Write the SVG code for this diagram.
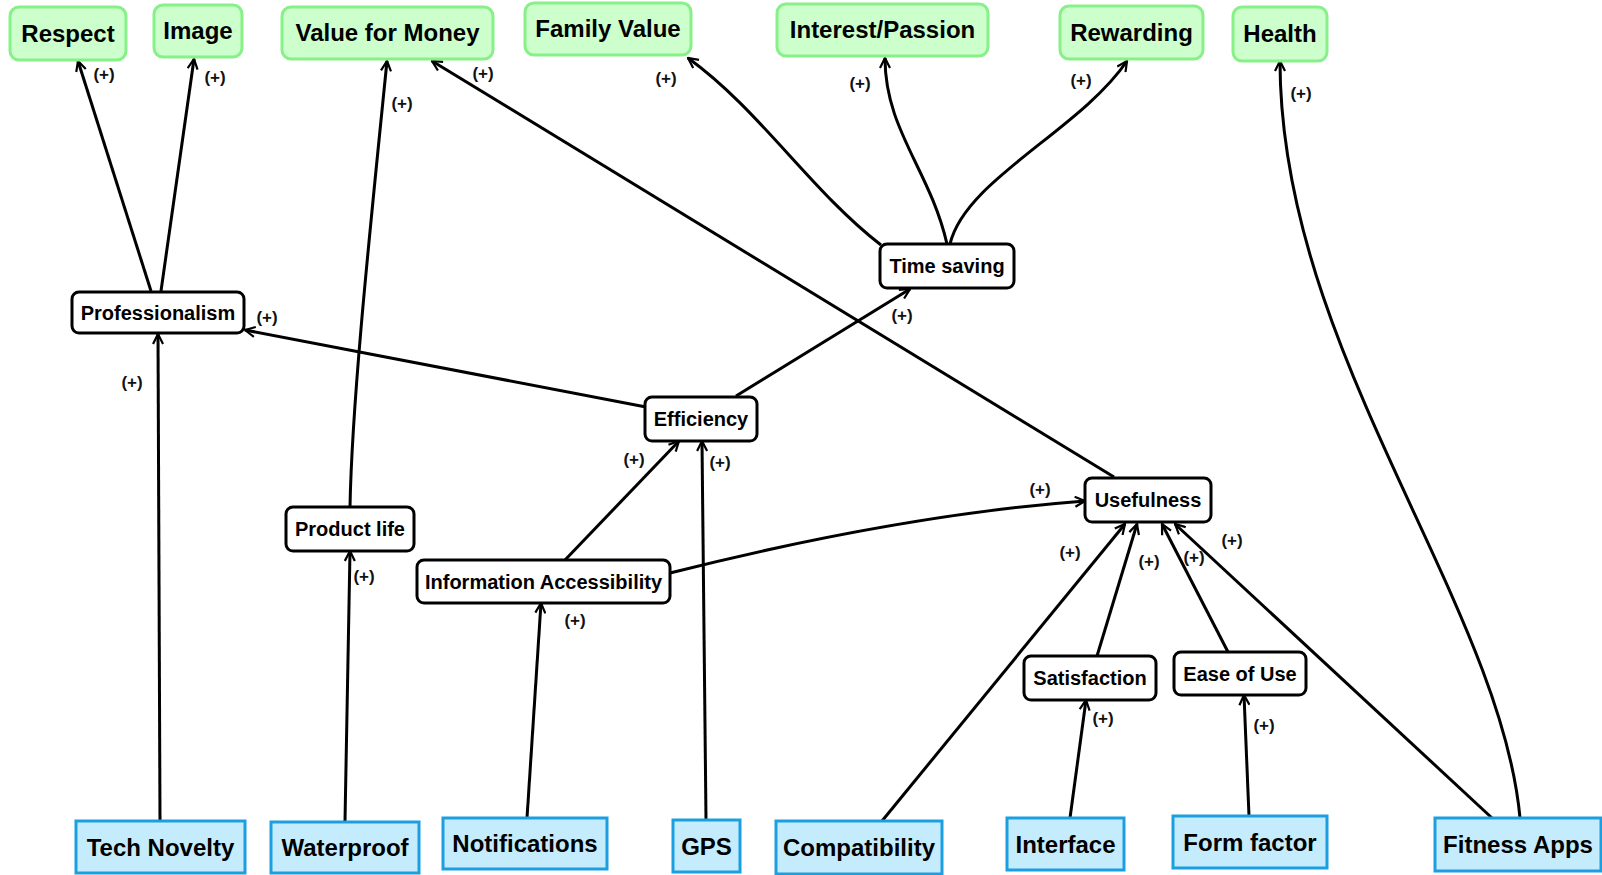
<svg xmlns="http://www.w3.org/2000/svg" width="1602" height="875" viewBox="0 0 1602 875">
<style>
.g rect{fill:#ccffcc;stroke:#88f088;stroke-width:3}
.w rect{fill:#fff;stroke:#000;stroke-width:3}
.b rect{fill:#c4ecfc;stroke:#1c9fe0;stroke-width:3}
text{font-family:"Liberation Sans",Arial,sans-serif;font-weight:bold;fill:#000;text-anchor:middle}
.g text,.b text{font-size:24px}
.w text{font-size:20px}
.lbl{font-size:17px;fill:#111}
.e path{fill:none;stroke:#000;stroke-width:3;marker-end:url(#arr)}
</style>
<defs>
<marker id="arr" viewBox="0 0 12 12" refX="11" refY="6" markerWidth="12" markerHeight="12" markerUnits="userSpaceOnUse" orient="auto">
<path d="M1,1 L11,6 L1,11" fill="none" stroke="#000" stroke-width="2.2"/>
</marker>
</defs>
<rect width="1602" height="875" fill="#fff"/>
<g id="connectors" class="e">
<path d="M151,291 L78,61"/>
<path d="M161,291 L194,59"/>
<path d="M350,507 C352,400 370,230 387,61"/>
<path d="M1114,477 L432,61"/>
<path d="M881,245 C810,190 760,110 688,58"/>
<path d="M947,244 C930,170 885,130 885,58"/>
<path d="M950,244 C965,180 1080,130 1127,61"/>
<path d="M1520,818 C1500,600 1280,350 1280,61"/>
<path d="M1492,818 L1175,524"/>
<path d="M160,820 L158,334"/>
<path d="M345,821 L350,551"/>
<path d="M646,407 L245,330"/>
<path d="M736,396 L910,289"/>
<path d="M565,560 L679,441"/>
<path d="M706,820 L702,441"/>
<path d="M527,818 L541,603"/>
<path d="M670,573 Q900,515 1085,501"/>
<path d="M882,821 L1125,524"/>
<path d="M1097,656 L1137,524"/>
<path d="M1228,652 L1162,524"/>
<path d="M1070,818 L1086,700"/>
<path d="M1249,816 L1244,695"/>
</g>
<g id="edge-labels">
<text class="lbl" x="104" y="80">(+)</text>
<text class="lbl" x="215" y="83">(+)</text>
<text class="lbl" x="402" y="109">(+)</text>
<text class="lbl" x="483" y="79">(+)</text>
<text class="lbl" x="666" y="84">(+)</text>
<text class="lbl" x="860" y="89">(+)</text>
<text class="lbl" x="1081" y="86">(+)</text>
<text class="lbl" x="1301" y="99">(+)</text>
<text class="lbl" x="1232" y="546">(+)</text>
<text class="lbl" x="132" y="388">(+)</text>
<text class="lbl" x="364" y="582">(+)</text>
<text class="lbl" x="267" y="323">(+)</text>
<text class="lbl" x="902" y="321">(+)</text>
<text class="lbl" x="634" y="465">(+)</text>
<text class="lbl" x="720" y="468">(+)</text>
<text class="lbl" x="575" y="626">(+)</text>
<text class="lbl" x="1040" y="495">(+)</text>
<text class="lbl" x="1070" y="558">(+)</text>
<text class="lbl" x="1149" y="567">(+)</text>
<text class="lbl" x="1194" y="563">(+)</text>
<text class="lbl" x="1103" y="724">(+)</text>
<text class="lbl" x="1264" y="731">(+)</text>
</g>
<g id="n-respect" class="g"><rect x="10" y="7" width="116" height="53" rx="9"/><text x="68" y="42">Respect</text></g>
<g id="n-image" class="g"><rect x="154" y="5" width="88" height="52" rx="9"/><text x="198" y="39">Image</text></g>
<g id="n-value" class="g"><rect x="282" y="7" width="211" height="52" rx="9"/><text x="387.5" y="41">Value for Money</text></g>
<g id="n-family" class="g"><rect x="525" y="3" width="166" height="52" rx="9"/><text x="608" y="37">Family Value</text></g>
<g id="n-interest" class="g"><rect x="777" y="4" width="211" height="52" rx="9"/><text x="882.5" y="38">Interest/Passion</text></g>
<g id="n-rewarding" class="g"><rect x="1060" y="6" width="143" height="53" rx="9"/><text x="1131.5" y="41">Rewarding</text></g>
<g id="n-health" class="g"><rect x="1233" y="7" width="94" height="54" rx="9"/><text x="1280" y="42">Health</text></g>
<g id="n-professionalism" class="w"><rect x="72" y="292" width="172" height="41" rx="7"/><text x="158" y="319.5">Professionalism</text></g>
<g id="n-timesaving" class="w"><rect x="880" y="244" width="134" height="44" rx="7"/><text x="947" y="273">Time saving</text></g>
<g id="n-efficiency" class="w"><rect x="645" y="397" width="112" height="44" rx="7"/><text x="701" y="426">Efficiency</text></g>
<g id="n-productlife" class="w"><rect x="286" y="507" width="128" height="44" rx="7"/><text x="350" y="536">Product life</text></g>
<g id="n-infoaccess" class="w"><rect x="417" y="560" width="253" height="43" rx="7"/><text x="543.5" y="588.5">Information Accessibility</text></g>
<g id="n-usefulness" class="w"><rect x="1085" y="478" width="126" height="44" rx="7"/><text x="1148" y="507">Usefulness</text></g>
<g id="n-satisfaction" class="w"><rect x="1024" y="656" width="132" height="44" rx="7"/><text x="1090" y="685">Satisfaction</text></g>
<g id="n-easeofuse" class="w"><rect x="1174" y="652" width="132" height="43" rx="7"/><text x="1240" y="680.5">Ease of Use</text></g>
<g id="n-technovelty" class="b"><rect x="76" y="821" width="169" height="52"/><text x="160.5" y="855.5">Tech Novelty</text></g>
<g id="n-waterproof" class="b"><rect x="271" y="822" width="148" height="51"/><text x="345" y="856">Waterproof</text></g>
<g id="n-notifications" class="b"><rect x="443" y="818" width="164" height="51"/><text x="525" y="852">Notifications</text></g>
<g id="n-gps" class="b"><rect x="673" y="820" width="67" height="52"/><text x="706.5" y="854.5">GPS</text></g>
<g id="n-compatibility" class="b"><rect x="776" y="821" width="166" height="53"/><text x="859" y="856">Compatibility</text></g>
<g id="n-interface" class="b"><rect x="1007" y="818" width="117" height="52"/><text x="1065.5" y="852.5">Interface</text></g>
<g id="n-formfactor" class="b"><rect x="1173" y="816" width="154" height="52"/><text x="1250" y="850.5">Form factor</text></g>
<g id="n-fitnessapps" class="b"><rect x="1435" y="818" width="166" height="53"/><text x="1518" y="853">Fitness Apps</text></g>
</svg>
